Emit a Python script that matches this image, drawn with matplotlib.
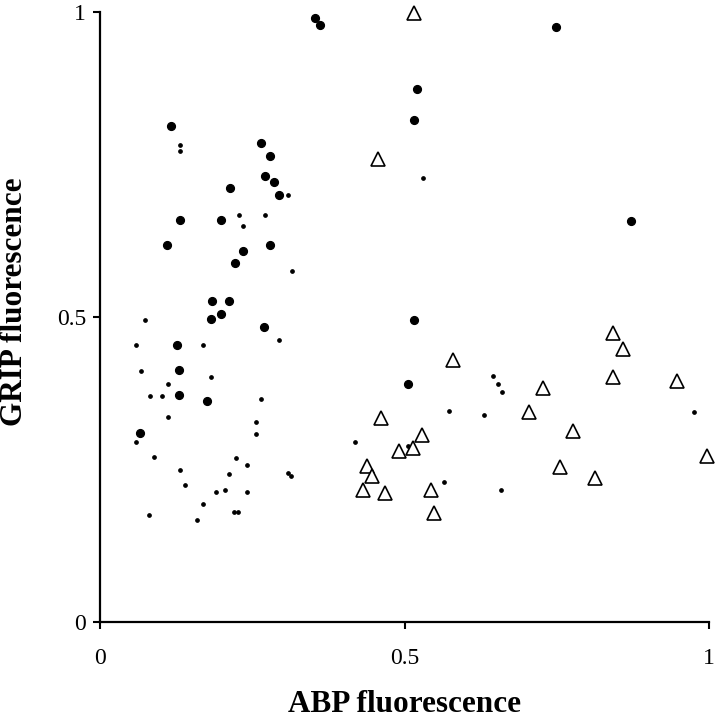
#!/usr/bin/env python3
"""Scatter of GRIP vs ABP fluorescence, three marker classes."""

import matplotlib
matplotlib.use("Agg")
import matplotlib.pyplot as plt

# large filled dots
big_x = [0.353, 0.361, 0.117, 0.264, 0.279, 0.271, 0.285, 0.294, 0.213, 0.131,
         0.199, 0.110, 0.279, 0.235, 0.221, 0.184, 0.212, 0.198, 0.183, 0.270,
         0.127, 0.130, 0.129, 0.176, 0.066, 0.748, 0.521, 0.515, 0.871, 0.515,
         0.506]
big_y = [0.990, 0.979, 0.814, 0.785, 0.764, 0.731, 0.722, 0.701, 0.711, 0.660,
         0.659, 0.619, 0.618, 0.609, 0.588, 0.526, 0.526, 0.505, 0.497, 0.484,
         0.454, 0.413, 0.372, 0.362, 0.310, 0.976, 0.874, 0.823, 0.657, 0.495,
         0.391]

# small dots
small_x = [0.132, 0.132, 0.309, 0.228, 0.271, 0.235, 0.315, 0.074, 0.294, 0.059,
           0.169, 0.067, 0.183, 0.111, 0.082, 0.102, 0.264, 0.111, 0.256, 0.256,
           0.059, 0.088, 0.224, 0.241, 0.131, 0.212, 0.308, 0.314, 0.140, 0.191,
           0.206, 0.241, 0.169, 0.220, 0.227, 0.081, 0.160, 0.530, 0.645, 0.654,
           0.660, 0.573, 0.631, 0.976, 0.418, 0.505, 0.564, 0.659]
small_y = [0.782, 0.772, 0.700, 0.668, 0.668, 0.649, 0.575, 0.495, 0.463, 0.454,
           0.454, 0.412, 0.402, 0.391, 0.371, 0.371, 0.366, 0.336, 0.328, 0.308,
           0.296, 0.271, 0.269, 0.257, 0.250, 0.243, 0.244, 0.239, 0.225, 0.213,
           0.216, 0.213, 0.193, 0.181, 0.181, 0.175, 0.167, 0.729, 0.403, 0.390,
           0.378, 0.346, 0.339, 0.345, 0.295, 0.289, 0.230, 0.216]

# open triangles
tri_x = [0.516, 0.457, 0.843, 0.858, 0.579, 0.727, 0.843, 0.947, 0.704, 0.462,
         0.776, 0.529, 0.514, 0.491, 0.996, 0.439, 0.755, 0.447, 0.813, 0.432,
         0.468, 0.543, 0.549]
tri_y = [0.998, 0.759, 0.474, 0.448, 0.429, 0.384, 0.402, 0.395, 0.345, 0.335,
         0.313, 0.306, 0.286, 0.280, 0.273, 0.256, 0.255, 0.240, 0.236, 0.216,
         0.211, 0.216, 0.179]

ticks = [0, 0.5, 1]
tick_labels = ["0", "0.5", "1"]

plt.rcParams["font.family"] = ["Liberation Serif", "DejaVu Serif"]

fig = plt.figure(figsize=(7.17, 7.2), dpi=100)
ax = fig.add_axes([0.1395, 0.136, 0.8495, 0.847])

ax.plot(small_x, small_y, "o", color="black", markersize=2.4, clip_on=False)
ax.plot(big_x, big_y, "o", color="black", markersize=5.6, clip_on=False)
ax.plot(tri_x, tri_y, "^", markerfacecolor="white", markeredgecolor="black",
        markeredgewidth=1.2, markersize=9.5, clip_on=False)

ax.set_xlim(0, 1)
ax.set_ylim(0, 1)
ax.set_xticks(ticks)
ax.set_xticklabels(tick_labels)
ax.set_yticks(ticks)
ax.set_yticklabels(tick_labels)
ax.tick_params(direction="out", length=5, width=1.5, labelsize=17)
ax.tick_params(axis="x", pad=14)
ax.tick_params(axis="y", pad=5)

for side in ("top", "right"):
    ax.spines[side].set_visible(False)
for side in ("left", "bottom"):
    ax.spines[side].set_linewidth(1.6)

ax.set_xlabel("ABP fluorescence", fontsize=22.5, fontweight="bold")
ax.set_ylabel("GRIP fluorescence", fontsize=22.5, fontweight="bold")
ax.xaxis.set_label_coords(0.5, -0.112)
ax.yaxis.set_label_coords(-0.116, 0.525)

fig.savefig("out.png", dpi=100)
